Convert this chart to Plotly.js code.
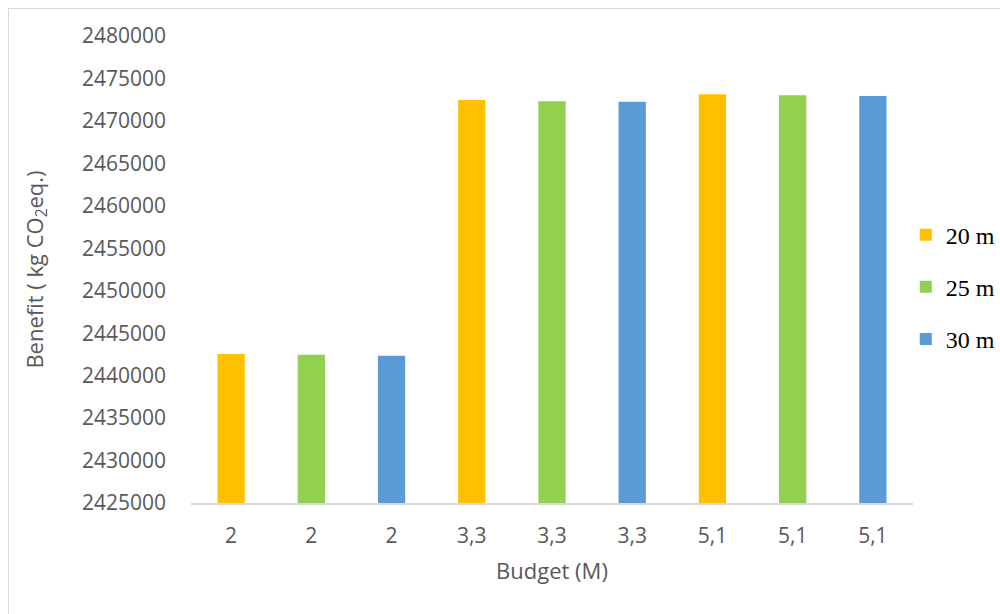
<!DOCTYPE html>
<html>
<head>
<meta charset="utf-8">
<script src="https://cdn.plot.ly/plotly-3.0.1.min.js"></script>
<style>
  html, body { margin: 0; padding: 0; background: #ffffff; overflow: hidden; }
  #frame {
    position: absolute; left: 8px; top: 8px;
    width: 992px; height: 606px;
    border-left: 1.5px solid #d9d9d9;
    border-top: 1.5px solid #d9d9d9;
    box-sizing: border-box;
    overflow: hidden;
  }
  #chart { width: 1040px; height: 604px; }
</style>
</head>
<body>
<div id="frame"><div id="chart"></div></div>
<script>
// Budget scenarios (M) shown along the x axis, one slot per bar
const budgetLabels = ["2", "2", "2", "3,3", "3,3", "3,3", "5,1", "5,1", "5,1"];

// Series: distance setting and the benefit (kg CO2 eq.) for each budget
const seriesNames = ["20 m", "25 m", "30 m"];
const benefit20m = [2442550, 2472450, 2473150];
const benefit25m = [2442470, 2472330, 2473030];
const benefit30m = [2442350, 2472250, 2472920];
const seriesColors = ["#FFC000", "#92D050", "#5B9BD5"];

const seriesValues = [benefit20m, benefit25m, benefit30m];
const slotIndex = budgetLabels.map((_, i) => i);

const traces = seriesValues.map((vals, s) => ({
  type: "bar",
  name: seriesNames[s],
  legendgroup: "g" + s,
  x: vals.map((_, k) => k * 3 + s),
  y: vals,
  width: 0.34,
  marker: { color: seriesColors[s], line: { width: 0 } },
  hoverinfo: "x+y"
}));

const tickFont = { family: "Open Sans, Noto Sans, sans-serif", size: 21, color: "#595959" };

const layout = {
  width: 1040,
  height: 604,
  margin: { l: 182, r: 136, t: 27, b: 110 },
  paper_bgcolor: "#ffffff",
  plot_bgcolor: "#ffffff",
  barmode: "overlay",
  showlegend: true,
  legend: {
    x: 0.99, xanchor: "left",
    y: 0.622, yanchor: "top",
    font: { family: "Liberation Serif, Times New Roman, serif", size: 24, color: "#000000" },
    tracegroupgap: 18,
    bgcolor: "rgba(0,0,0,0)"
  },
  xaxis: {
    range: [-0.5, 8.5],
    tickmode: "array",
    tickvals: slotIndex,
    ticktext: budgetLabels,
    showgrid: false,
    zeroline: false,
    showline: true,
    linecolor: "#d9d9d9",
    linewidth: 1.5,
    ticks: "",
    ticklabelstandoff: 13,
    tickfont: tickFont,
    title: {
      text: "Budget (M)",
      font: { family: "Open Sans, Noto Sans, sans-serif", size: 22, color: "#595959" },
      standoff: 16
    }
  },
  yaxis: {
    range: [2425000, 2480000],
    tickmode: "linear",
    tick0: 2425000,
    dtick: 5000,
    tickformat: "d",
    showgrid: false,
    zeroline: false,
    showline: false,
    ticks: "",
    ticklabelstandoff: 24,
    tickfont: tickFont,
    title: {
      text: "Benefit ( kg CO<sub>2</sub>eq.)",
      font: { family: "Open Sans, Noto Sans, sans-serif", size: 22, color: "#595959" },
      standoff: 32
    }
  }
};

Plotly.newPlot("chart", traces, layout, { displayModeBar: false, staticPlot: true });
</script>
</body>
</html>
